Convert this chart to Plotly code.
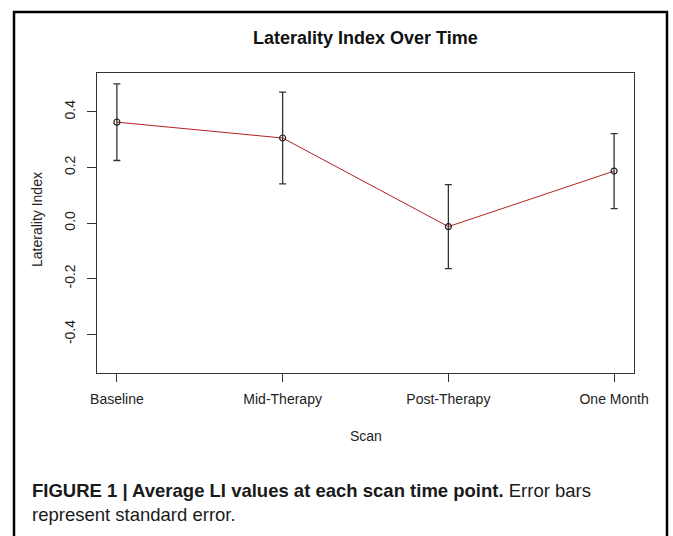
import plotly.graph_objects as go

scans = ["Baseline", "Mid-Therapy", "Post-Therapy", "One Month"]
li_mean = [0.363, 0.306, -0.013, 0.187]
li_se = [0.138, 0.165, 0.151, 0.135]
y_ticks = [-0.4, -0.2, 0.0, 0.2, 0.4]

W, H = 673, 536
L, R, T, B = 97, 39, 73, 163
pw, ph = W - L - R, H - T - B

def px(x):
    return (x - L) / pw

def py(y):
    return (H - B - y) / ph

x_pos = list(range(1, len(scans) + 1))

fig = go.Figure()
fig.add_trace(go.Scatter(
    x=x_pos, y=li_mean, mode="lines+markers",
    line=dict(color="#B22222", width=1),
    marker=dict(symbol="circle-open", size=6, color="#222222", line=dict(width=1.2)),
    error_y=dict(type="data", array=li_se, visible=True, color="#333333", thickness=1.3, width=3.5),
    showlegend=False, hoverinfo="skip",
))

font_main = "Liberation Sans, Arial, sans-serif"

fig.update_layout(
    width=W, height=H,
    margin=dict(l=L, r=R, t=T, b=B, pad=0),
    paper_bgcolor="white", plot_bgcolor="white",
    font=dict(family=font_main, size=14, color="#222222"),
    xaxis=dict(
        range=[0.88, 4.12], tickmode="array", tickvals=x_pos, ticktext=scans,
        showgrid=False, zeroline=False, showline=True, mirror=True,
        linecolor="#333333", linewidth=1.2,
        ticks="outside", ticklen=8, tickcolor="#333333", tickwidth=1.2,
        tickfont=dict(size=14, color="#222222"), ticklabelstandoff=5,
    ),
    yaxis=dict(
        range=[-0.54, 0.54], tickmode="array", tickvals=y_ticks,
        ticktext=[f"{v:.1f}" for v in y_ticks],
        showgrid=False, zeroline=False, showline=True, mirror=True,
        linecolor="#333333", linewidth=1.2,
        ticks="outside", ticklen=9, tickcolor="#333333", tickwidth=1.2,
        tickangle=-90, tickfont=dict(size=14, color="#222222"), ticklabelstandoff=6,
    ),
    annotations=[
        dict(text="<b>Laterality Index Over Time</b>", xref="paper", yref="paper",
             x=0.5, y=py(38), xanchor="center", yanchor="middle", showarrow=False,
             font=dict(size=18, color="#111111")),
        dict(text="Scan", xref="paper", yref="paper", x=0.5, y=py(436),
             xanchor="center", yanchor="middle", showarrow=False,
             font=dict(size=14, color="#222222")),
        dict(text="Laterality Index", xref="paper", yref="paper", x=px(37), y=py(220),
             xanchor="center", yanchor="middle", textangle=-90, showarrow=False,
             font=dict(size=14, color="#222222")),
        dict(text="<b>FIGURE 1 | Average LI values at each scan time point.</b> Error bars",
             xref="paper", yref="paper", x=px(30), y=py(490), xanchor="left", yanchor="middle",
             showarrow=False, font=dict(size=18.5, color="#1a1a1a")),
        dict(text="represent standard error.",
             xref="paper", yref="paper", x=px(30), y=py(514), xanchor="left", yanchor="middle",
             showarrow=False, font=dict(size=18.5, color="#1a1a1a")),
    ],
    shapes=[
        dict(type="path", xref="paper", yref="paper",
             path=f"M {px(14)},{py(545)} L {px(14)},{py(12)} L {px(667)},{py(12)} L {px(667)},{py(545)}",
             line=dict(color="black", width=2.5)),
    ],
)

fig.write_html("out.html")
